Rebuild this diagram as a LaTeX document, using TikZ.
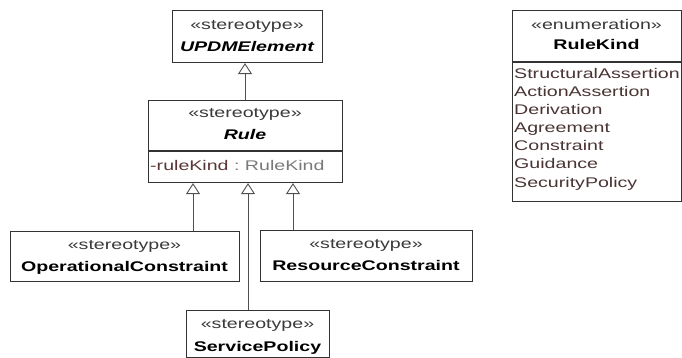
\documentclass[tikz,border=0pt]{standalone}
\usepackage{fontspec}
\setmainfont{Liberation Sans}[FakeStretch=1.4]
\usetikzlibrary{arrows.meta}
\definecolor{ln}{HTML}{333333}
\definecolor{cn}{HTML}{505050}
\definecolor{stc}{HTML}{3A3A3A}
\definecolor{attc}{HTML}{5A3636}
\definecolor{typc}{HTML}{7A7A7A}
\definecolor{litc}{HTML}{4A3434}
\begin{document}
\begin{tikzpicture}[x=1pt,y=-1pt,
  font=\fontsize{14}{16}\selectfont,
  box/.style={draw=ln, line width=1.1pt, fill=white, inner sep=0pt, anchor=north west},
  ster/.style={anchor=base, inner sep=0pt, text=stc},
  nm/.style={anchor=base, inner sep=0pt, font=\fontsize{14}{16}\selectfont\bfseries},
  nmi/.style={anchor=base, inner sep=0pt, font=\fontsize{14}{16}\selectfont\bfseries\itshape},
  lit/.style={anchor=base west, inner sep=0pt, text=litc},
  gen/.style={draw=cn, line width=0.9pt, -{Triangle[open, length=11pt, width=14pt, fill=white]}}]
\useasboundingbox (0,0) rectangle (682,358);
% boxes
\node[box, minimum width=150pt, minimum height=52pt] (updm) at (172,10) {};
\node[box, minimum width=194pt, minimum height=82pt] (rule) at (148,100) {};
\node[box, minimum width=229pt, minimum height=50pt] (opc) at (10,231) {};
\node[box, minimum width=212pt, minimum height=51pt] (rc) at (260,230) {};
\node[box, minimum width=143pt, minimum height=47pt] (sp) at (186,310) {};
\node[box, minimum width=169pt, minimum height=191pt] (rk) at (512,10) {};
% dividers
\draw[ln, line width=1.1pt] ([yshift=-51pt]rule.north west) -- ([yshift=-51pt]rule.north east);
\draw[ln, line width=1.1pt] ([yshift=-52pt]rk.north west) -- ([yshift=-52pt]rk.north east);
% texts
\node[ster] (t1) at (247,30) {«stereotype»};
\node[nmi] (t2) at (247,52) {UPDMElement};
\node[ster] (t3) at (245,118) {«stereotype»};
\node[nmi] (t4) at (245,140) {Rule};
\node[anchor=base west, inner sep=0pt] (t5) at (150,171) {\textcolor{attc}{-ruleKind}\textcolor{typc}{\ :\ RuleKind}};
\node[ster] (t6) at (124.5,249) {«stereotype»};
\node[nm] (t7) at (124.5,271) {OperationalConstraint};
\node[ster] (t8) at (366,248) {«stereotype»};
\node[nm] (t9) at (366,270) {ResourceConstraint};
\node[ster] (t10) at (257.5,328) {«stereotype»};
\node[nm] (t11) at (257.5,351) {ServicePolicy};
\node[ster] (t12) at (596.5,30) {«enumeration»};
\node[nm] (t13) at (596.5,50) {RuleKind};
\node[lit] (l1) at (514,79) {StructuralAssertion};
\node[lit] (l2) at (514,97) {ActionAssertion};
\node[lit] (l3) at (514,115) {Derivation};
\node[lit] (l4) at (514,133) {Agreement};
\node[lit] (l5) at (514,151) {Constraint};
\node[lit] (l6) at (514,169) {Guidance};
\node[lit] (l7) at (514,187) {SecurityPolicy};
% connectors
\coordinate (xa) at (245,0);
\coordinate (xb) at (193,0);
\coordinate (xc) at (248,0);
\coordinate (xd) at (293,0);
\draw[gen] (rule.north -| xa) -- (updm.south -| xa);
\draw[gen] (opc.north -| xb) -- (rule.south -| xb);
\draw[gen] (sp.north -| xc) -- (rule.south -| xc);
\draw[gen] (rc.north -| xd) -- (rule.south -| xd);
\end{tikzpicture}
\end{document}
